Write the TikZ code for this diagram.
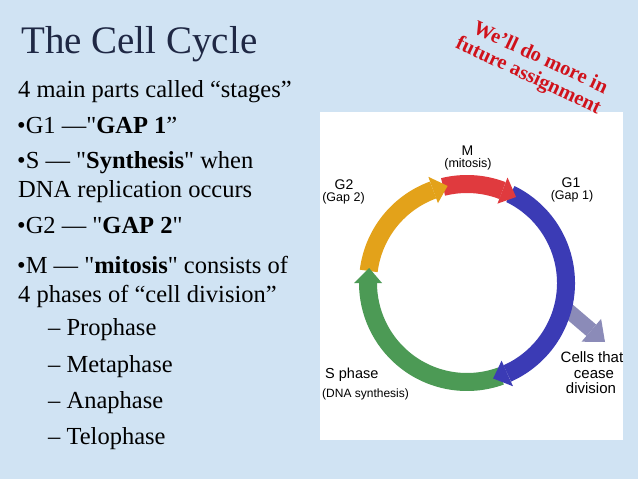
\documentclass[tikz,border=0pt]{standalone}
\usepackage{fontspec}
\setmainfont{Liberation Serif}[Ligatures=TeXOff]
\newfontfamily\lsans{Liberation Sans}
\definecolor{bg}{HTML}{D0E3F3}
\definecolor{titlec}{HTML}{1F2844}
\definecolor{notec}{HTML}{D0121B}
\definecolor{cred}{HTML}{E03A3E}
\definecolor{cblue}{HTML}{3B3BB5}
\definecolor{cgreen}{HTML}{4C9A55}
\definecolor{corange}{HTML}{E3A21A}
\definecolor{cpurple}{HTML}{8B8BB8}
\tikzset{
  body/.style={anchor=base west, inner sep=0pt, font=\fontsize{24.5}{26}\selectfont},
  note/.style={anchor=base, inner sep=0pt, rotate=-25, text=notec, font=\fontsize{20.5}{22}\selectfont\bfseries},
  lbig/.style={anchor=base, inner sep=0pt, font=\lsans\fontsize{14}{16}\selectfont},
  lsmall/.style={anchor=base, inner sep=0pt, font=\lsans\fontsize{12.5}{14}\selectfont},
  band/.style={line width=18pt},
}
\begin{document}
\begin{tikzpicture}[x=1pt,y=-1pt]
\fill[bg] (0,0) rectangle (638,479);
\useasboundingbox (0,0) rectangle (638,479);
\fill[white] (320,112) rectangle (623,440);

% left text
\node[anchor=base west, inner sep=0pt, text=titlec, font=\fontsize{39}{41}\selectfont] (title) at (21,53) {The Cell Cycle};
\node[body] (l1) at (18,97) {4 main parts called “stages”};
\node[body] (l2) at (17,133) {•G1 —"\textbf{GAP 1}”};
\node[body] (l3) at (17,168) {•S — "\textbf{Synthesis}" when};
\node[body] (l4) at (18,197) {DNA replication occurs};
\node[body] (l5) at (17,233) {•G2 — "\textbf{GAP 2}"};
\node[body] (l6) at (17,273) {•M — "\textbf{mitosis}" consists of};
\node[body] (l7) at (18,302) {4 phases of “cell division”};
\node[body] (p1) at (48,335) {– Prophase};
\node[body] (p2) at (48,372) {– Metaphase};
\node[body] (p3) at (48,408) {– Anaphase};
\node[body] (p4) at (48,444) {– Telophase};

% red note
\node[note] (n1) at (538,63) {We’ll do more in};
\node[note] (n2) at (526,81) {future assignment};

% purple exit arrow (under the ring)
\coordinate (ps) at (566.5,309.1);
\coordinate (pb) at (591.3,330.3);
\coordinate (pt) at (605,342);
\draw[cpurple, line width=15pt] (ps) -- (pb);
\fill[cpurple] (601.1,318.9) -- (pt) -- (581.5,341.7) -- cycle;

% cycle ring
\begin{scope}[shift={(467,283)}, yscale=-1]
  \draw[band, corange] (173:99) arc[start angle=173, end angle=110, radius=99];
  \draw[band, cred] (104:99) arc[start angle=104, end angle=69, radius=99];
  \draw[band, cblue] (64:99) arc[start angle=64, end angle=-66, radius=99];
  \draw[band, cgreen] (-70:99) arc[start angle=-70, end angle=-180, radius=99];
  \fill[corange] (110:85) -- (110:113) -- (101.3:99) -- cycle;
  \fill[cred] (69:85) -- (69:113) -- (60.3:99) -- cycle;
  \fill[cblue] (-66:85) -- (-66:113) -- (-74.7:99) -- cycle;
  \fill[cgreen] (180:85) -- (180:113) -- (171.3:99) -- cycle;
\end{scope}

% ring labels
\node[lbig] (m) at (467.5,155) {M};
\node[lsmall] (mit) at (468,167) {(mitosis)};
\node[lbig] (g1) at (571,187) {G1};
\node[lsmall] (gap1) at (572,199) {(Gap 1)};
\node[lbig] (g2) at (344,189) {G2};
\node[lsmall] (gap2) at (343.5,201) {(Gap 2)};
\node[lbig, anchor=base west, font=\lsans\fontsize{14.5}{16}\selectfont] (s) at (325,378) {S phase};
\node[lsmall, anchor=base west, font=\lsans\fontsize{12}{14}\selectfont] (dna) at (322,397) {(DNA synthesis)};
\node[anchor=base, inner sep=0pt, font=\lsans\fontsize{15}{15.5}\selectfont] (cells) at (592,362) {Cells that};
\node[anchor=base, inner sep=0pt, font=\lsans\fontsize{15}{15.5}\selectfont] (cease) at (594,378) {cease};
\node[anchor=base, inner sep=0pt, font=\lsans\fontsize{15}{15.5}\selectfont] (div) at (591,393) {division};
\end{tikzpicture}
\end{document}
